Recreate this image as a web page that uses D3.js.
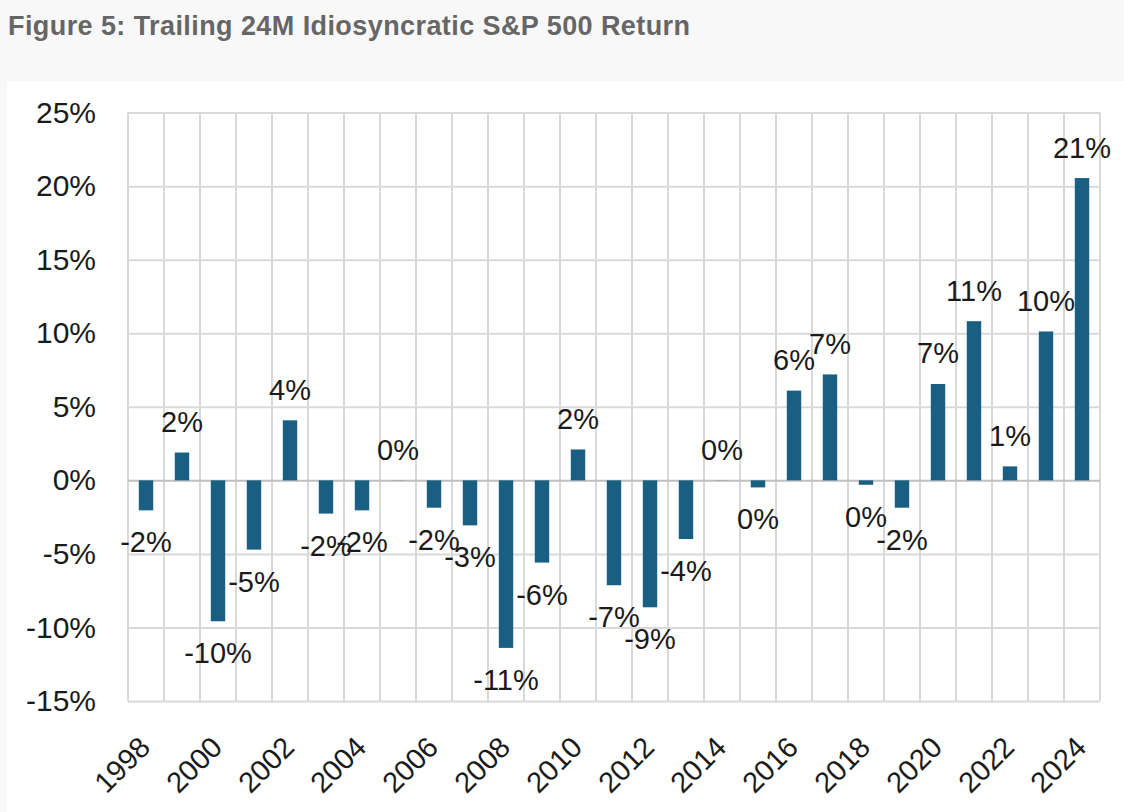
<!DOCTYPE html>
<html lang="en">

<head>
    <meta charset="UTF-8">
    <title>Figure 5</title>
    <script src="https://d3js.org/d3.v7.min.js"></script>
    <style>
        body {
            margin: 0;
            background: #f8f8f8;
        }

        svg {
            display: block;
            font-family: Arial, "Liberation Sans", sans-serif;
        }

        .title {
            font-size: 27px;
            font-weight: bold;
            fill: #666666;
        }

        .grid line {
            stroke: #d9d9d9;
            stroke-width: 2px;
        }

        .yAxis text {
            font-size: 30px;
            fill: #1a1a1a;
        }

        .xAxis text {
            font-size: 29px;
            fill: #1a1a1a;
        }

        .label {
            font-size: 29px;
            fill: #1a1a1a;
        }

        rect.bar {
            fill: #185f82;
        }
    </style>
</head>

<body>
    <svg width="1124" height="812"></svg>
    <script>
        // trailing 24M idiosyncratic return, %
        var years = [1998, 1999, 2000, 2001, 2002, 2003, 2004, 2005, 2006, 2007, 2008, 2009, 2010,
            2011, 2012, 2013, 2014, 2015, 2016, 2017, 2018, 2019, 2020, 2021, 2022, 2023, 2024];
        var returns = [-2.04, 1.89, -9.58, -4.71, 4.08, -2.26, -2.04, 0.01, -1.86, -3.06, -11.39, -5.59, 2.1,
            -7.13, -8.63, -3.99, 0.01, -0.48, 6.1, 7.2, -0.3, -1.86, 6.55, 10.82, 0.95, 10.12, 20.55];
        var yTicks = [-15, -10, -5, 0, 5, 10, 15, 20, 25];
        var xTickYears = [1998, 2000, 2002, 2004, 2006, 2008, 2010, 2012, 2014, 2016, 2018, 2020, 2022, 2024];

        var data = years.map((d, i) => ({ year: d, value: returns[i] }));

        // note: "top" is taken by window.top, so plot edges get their own names
        var plotLeft = 128, plotRight = 1100, plotTop = 112.6, plotBottom = 701;

        function pct(v) {
            var r = Math.round(v);
            if (r === 0) r = 0;
            return (r < 0 ? "-" + Math.abs(r) : r) + "%";
        }

        var svg = d3.select("svg");

        svg.append("rect")
            .attr("x", 7).attr("y", 81)
            .attr("width", 1117).attr("height", 731)
            .attr("fill", "#ffffff");

        svg.append("text")
            .attr("class", "title")
            .attr("x", 8).attr("y", 35)
            .attr("textLength", 682)
            .text("Figure 5: Trailing 24M Idiosyncratic S&P 500 Return");

        xScale = d3.scaleBand().domain(years).range([plotLeft, plotRight]).paddingInner(0.6).paddingOuter(0.3);
        yScale = d3.scaleLinear().domain([-15, 25]).range([plotBottom, plotTop]);

        // vertical grid on category boundaries
        var step = xScale.step();
        var bounds = years.map(d => xScale(d) + xScale.bandwidth() / 2 - step / 2);
        bounds.push(bounds[bounds.length - 1] + step);

        svg.append("g").attr("class", "grid")
            .selectAll("line")
            .data(bounds)
            .enter()
            .append("line")
            .attr("x1", d => d).attr("x2", d => d)
            .attr("y1", plotTop).attr("y2", plotBottom);

        yAxis = d3.axisLeft(yScale).tickValues(yTicks).tickSize(-(plotRight - plotLeft)).tickPadding(32).tickFormat(pct);
        var yG = svg.append("g").attr("class", "yAxis grid")
            .attr("transform", "translate(" + plotLeft + ",0)")
            .call(yAxis);
        yG.select(".domain").remove();
        yG.selectAll(".tick").filter(d => d === 0).select("line").style("stroke", "#bfbfbf");

        xAxis = d3.axisBottom(xScale).tickValues(xTickYears).tickSize(0);
        var xG = svg.append("g").attr("class", "xAxis")
            .attr("transform", "translate(0," + plotBottom + ")")
            .call(xAxis);
        xG.select(".domain").remove();
        xG.selectAll("text")
            .attr("x", 0).attr("y", 0).attr("dy", null)
            .attr("text-anchor", "end")
            .attr("transform", "translate(6,48) rotate(-45)");

        svg.selectAll("rect.bar")
            .data(data)
            .enter()
            .append("rect")
            .attr("class", "bar")
            .attr("x", d => xScale(d.year))
            .attr("width", xScale.bandwidth())
            .attr("y", d => yScale(Math.max(0, d.value)))
            .attr("height", d => Math.abs(yScale(d.value) - yScale(0)));

        svg.selectAll("text.label")
            .data(data)
            .enter()
            .append("text")
            .attr("class", "label")
            .attr("text-anchor", "middle")
            .attr("x", d => xScale(d.year) + xScale.bandwidth() / 2)
            .attr("y", d => d.value >= 0 ? yScale(d.value) - 20.5 : yScale(d.value) + 42)
            .text(d => pct(d.value));
    </script>
</body>

</html>
